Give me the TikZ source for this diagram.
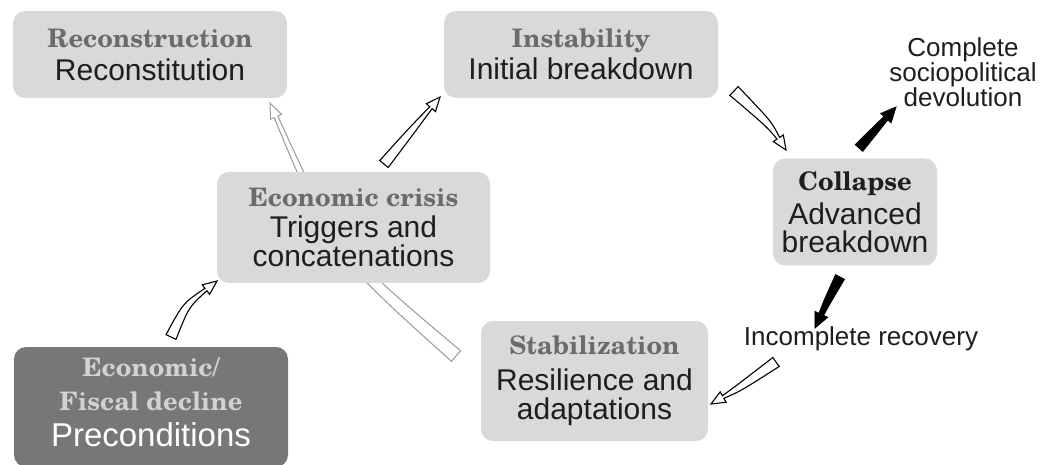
\documentclass[tikz,border=0pt]{standalone}
\usepackage{fontspec}
\newfontfamily\lsans{Liberation Sans}
\newfontfamily\ttlfont{texgyreschola-bold.otf}
\usetikzlibrary{calc}
\definecolor{boxgray}{HTML}{D9D9D9}
\definecolor{darkbox}{HTML}{777777}
\definecolor{titlegray}{HTML}{6B6B6B}
\definecolor{darktitle}{HTML}{D2D2D2}
\definecolor{arrgray}{HTML}{9A9A9A}
\definecolor{txt}{HTML}{1E1E1E}
\newcommand\ttl[1]{{\ttlfont\fontsize{25.5}{28}\selectfont #1}}
% tapered arrow: 1 style, 2 tail, 3 control, 4 tip, 5 tail hw, 6 shaft hw at head, 7 head hw, 8 head length, 9 mid hw
\newcommand\taper[9]{%
  \coordinate (tpH) at ($(#4)!#8!(#3)$);
  \coordinate (tpD) at ($(#3)+(tpH)-(#2)$);
  \coordinate (tpL1) at ($(#2)!#5!90:(#3)$);
  \coordinate (tpR1) at ($(#2)!#5!-90:(#3)$);
  \coordinate (tpCL) at ($(#3)!#9!90:(tpD)$);
  \coordinate (tpCR) at ($(#3)!#9!-90:(tpD)$);
  \coordinate (tpL2) at ($(tpH)!#6!90:(#4)$);
  \coordinate (tpR2) at ($(tpH)!#6!-90:(#4)$);
  \coordinate (tpW1) at ($(tpH)!#7!90:(#4)$);
  \coordinate (tpW2) at ($(tpH)!#7!-90:(#4)$);
  \path[#1] (tpL1) .. controls (tpCL) .. (tpL2) -- (tpW1) -- (#4) -- (tpW2)
     -- (tpR2) .. controls (tpCR) .. (tpR1) -- cycle;
}
\tikzset{
  box/.style={fill=boxgray, rounded corners=12pt, inner sep=0pt, align=center,
    font=\lsans\fontsize{30}{28}\selectfont, text=txt},
  lbl/.style={inner sep=0pt, align=center, font=\lsans\fontsize{26}{25}\selectfont, text=txt},
  openarr/.style={draw=black, fill=white, line width=1.1pt, line join=miter},
  solidarr/.style={draw=black, fill=black, line width=0.8pt, line join=miter},
  grayarr/.style={draw=arrgray, fill=white, line width=1pt, line join=miter},
}
\begin{document}
\begin{tikzpicture}[x=1pt,y=-1pt]
\useasboundingbox[fill=white] (0,0) rectangle (1042,465);
% gray arrow behind boxes: Stabilization -> Reconstruction
\coordinate (a7t) at (456,356);
\coordinate (a7c) at (334,250);
\coordinate (a7h) at (270,103);
\taper{grayarr}{a7t}{a7c}{a7h}{7pt}{2pt}{6pt}{15pt}{4.5pt}

\node[box, minimum width=274pt, minimum height=87pt] (recon) at (150,54.5)
  {\textcolor{titlegray}{\ttl{Reconstruction}}\\[5pt] Reconstitution};
\node[box, minimum width=274pt, minimum height=87pt] (instab) at (581,54.5)
  {\textcolor{titlegray}{\ttl{Instability}}\\[4pt] Initial breakdown};
\node[box, minimum width=273pt, minimum height=111pt] (crisis) at (353.5,227.5)
  {\textcolor{titlegray}{\ttl{Economic crisis}}\\[3pt] Triggers and\\[1pt] concatenations};
\node[box, minimum width=164pt, minimum height=107pt] (collapse) at (855,212)
  {\ttl{Collapse}\\[6pt] Advanced\\[0pt] breakdown};
\node[box, minimum width=227pt, minimum height=120pt] (stab) at (594.5,381)
  {\textcolor{titlegray}{\ttl{Stabilization}}\\[8pt] Resilience and\\[1pt] adaptations};
\node[box, fill=darkbox, minimum width=274pt, minimum height=120pt, text depth=10pt] (decline) at (151,407)
  {\textcolor{darktitle}{\ttl{Economic/}}\\[6pt]\textcolor{darktitle}{\ttl{Fiscal decline}}\\[8pt]
   \textcolor{white}{\fontsize{33}{34}\selectfont Preconditions}};

\node[lbl] (complete) at (963,72) {Complete\\sociopolitical\\devolution};
\node[lbl] (incomplete) at (861,339) {Incomplete recovery};

% Economic decline -> Economic crisis
\coordinate (a1t) at (171,337);
\coordinate (a1c) at (186,305);
\coordinate (a1h) at (217,281);
\taper{openarr}{a1t}{a1c}{a1h}{5.5pt}{1.5pt}{6pt}{14pt}{3.5pt}
% Economic crisis -> Instability
\coordinate (a2t) at (384,164);
\coordinate (a2c) at (412,130);
\coordinate (a2h) at (440,97);
\taper{openarr}{a2t}{a2c}{a2h}{5.5pt}{1.5pt}{6pt}{14pt}{3.5pt}
% Instability -> Collapse
\coordinate (a3t) at (734,91);
\coordinate (a3c) at (769,124);
\coordinate (a3h) at (786,150);
\taper{openarr}{a3t}{a3c}{a3h}{6pt}{1.5pt}{6pt}{14pt}{3.5pt}
% Collapse -> Complete sociopolitical devolution
\coordinate (a4t) at (859,148);
\coordinate (a4c) at (877,128);
\coordinate (a4h) at (896,107);
\taper{solidarr}{a4t}{a4c}{a4h}{5pt}{2.5pt}{7pt}{15pt}{3.5pt}
% Collapse -> Incomplete recovery
\coordinate (a5t) at (840,277);
\coordinate (a5c) at (827,302);
\coordinate (a5h) at (815,328);
\taper{solidarr}{a5t}{a5c}{a5h}{5pt}{2.5pt}{7pt}{15pt}{3.5pt}
% Incomplete recovery -> Stabilization
\coordinate (a6t) at (776,362);
\coordinate (a6c) at (739,388);
\coordinate (a6h) at (711,404);
\taper{openarr}{a6t}{a6c}{a6h}{5.5pt}{1.5pt}{6pt}{14pt}{3.5pt}
\end{tikzpicture}
\end{document}
